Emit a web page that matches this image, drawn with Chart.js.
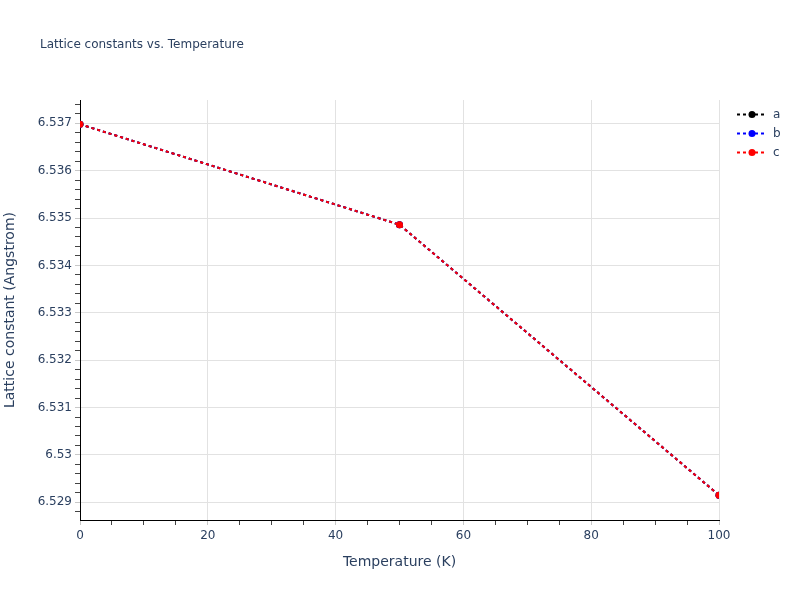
<!DOCTYPE html>
<html>
<head>
<meta charset="utf-8">
<title>Lattice constants vs. Temperature</title>
<script src="https://cdn.jsdelivr.net/npm/chart.js@4/dist/chart.umd.min.js"></script>
<style>
  html, body { margin: 0; padding: 0; background: #fff; }
  #wrap { width: 800px; height: 600px; }
</style>
</head>
<body>
<div id="wrap"><canvas id="latticeChart" width="800" height="600"></canvas></div>
<script>
const temperatures = [0, 50, 100];
const latticeA = [6.53698, 6.53486, 6.52915];
const latticeB = [6.53698, 6.53486, 6.52915];
const latticeC = [6.53698, 6.53486, 6.52915];

const seriesNames = ["a", "b", "c"];
const seriesColors = ["#000000", "#0000ff", "#ff0000"];

const xMajorTicks = [0, 20, 40, 60, 80, 100];
const yMajorTicks = [6.529, 6.53, 6.531, 6.532, 6.533, 6.534, 6.535, 6.536, 6.537];
const X_MIN = 0;
const X_MAX = 100;
const Y_MIN = 6.528626;
const Y_MAX = 6.537492;

const TEXT_COLOR = "#2a3f5f";
const GRID_COLOR = "#e2e2e2";
const FONT = "'DejaVu Sans', verdana, arial, sans-serif";

Chart.defaults.font.family = FONT;
Chart.defaults.color = TEXT_COLOR;

function isMajor(list, value) {
  return list.some((m) => Math.abs(m - value) < 1e-9);
}

function toPoints(values) {
  return temperatures.map((t, i) => ({ x: t, y: values[i] }));
}

// plotly-ish title in the top-left corner plus a legend with dash + marker
const decorations = {
  id: "decorations",
  afterDraw(chart) {
    const { ctx, chartArea } = chart;
    ctx.save();
    ctx.fillStyle = TEXT_COLOR;
    ctx.font = "12px " + FONT;
    ctx.textBaseline = "middle";
    ctx.textAlign = "left";
    ctx.fillText("Lattice constants vs. Temperature", 40, 45);

    ctx.font = "12px " + FONT;
    chart.data.datasets.forEach((ds, i) => {
      const y = chartArea.top + 14.5 + i * 19;
      const x0 = chartArea.right + 18;
      ctx.strokeStyle = ds.borderColor;
      ctx.lineWidth = 2;
      ctx.setLineDash([3, 3]);
      ctx.beginPath();
      ctx.moveTo(x0, y);
      ctx.lineTo(x0 + 30, y);
      ctx.stroke();
      ctx.setLineDash([]);
      ctx.fillStyle = ds.borderColor;
      ctx.beginPath();
      ctx.arc(x0 + 15, y, 3.5, 0, Math.PI * 2);
      ctx.fill();
      ctx.fillStyle = TEXT_COLOR;
      ctx.fillText(ds.label, x0 + 36, y);
    });
    ctx.restore();
  },
};

const datasets = [latticeA, latticeB, latticeC].map((values, i) => ({
  label: seriesNames[i],
  data: toPoints(values),
  order: 2 - i,
  borderColor: seriesColors[i],
  backgroundColor: seriesColors[i],
  pointBackgroundColor: seriesColors[i],
  pointBorderColor: seriesColors[i],
  pointBorderWidth: 0,
  pointRadius: 3.5,
  borderWidth: 2,
  borderDash: [3, 3],
  tension: 0,
  fill: false,
  clip: 0,
}));

new Chart(document.getElementById("latticeChart"), {
  type: "line",
  data: { datasets },
  plugins: [decorations],
  options: {
    responsive: false,
    animation: false,
    layout: { padding: { top: 100, right: 81, left: 0, bottom: 0 } },
    plugins: {
      legend: { display: false },
      title: { display: false },
      tooltip: { enabled: false },
    },
    scales: {
      x: {
        type: "linear",
        min: X_MIN,
        max: X_MAX,
        afterBuildTicks: (scale) => {
          const ticks = [];
          for (let v = X_MIN; v <= X_MAX; v += 5) ticks.push({ value: v });
          scale.ticks = ticks;
        },
        afterFit: (scale) => { scale.height = 80; },
        border: { display: true, color: "#000", width: 1 },
        grid: {
          color: (c) => (isMajor(xMajorTicks, c.tick.value) ? GRID_COLOR : "rgba(0,0,0,0)"),
          tickColor: (c) => (isMajor(xMajorTicks, c.tick.value) ? "#c8c8c8" : "#444"),
          tickLength: 5,
          lineWidth: 1,
        },
        ticks: {
          autoSkip: false,
          maxRotation: 0,
          padding: 4,
          color: TEXT_COLOR,
          font: { size: 12 },
          callback: (v) => (isMajor(xMajorTicks, v) ? String(v) : ""),
        },
        title: {
          display: true,
          text: "Temperature (K)",
          color: TEXT_COLOR,
          font: { size: 14 },
          padding: { top: 0, bottom: 29 },
        },
      },
      y: {
        type: "linear",
        min: Y_MIN,
        max: Y_MAX,
        afterBuildTicks: (scale) => {
          const ticks = [];
          const start = Math.ceil(Y_MIN * 5000);
          const end = Math.floor(Y_MAX * 5000);
          for (let k = start; k <= end; k += 1) ticks.push({ value: k / 5000 });
          scale.ticks = ticks;
        },
        afterFit: (scale) => { scale.width = 80; },
        border: { display: true, color: "#000", width: 1 },
        grid: {
          color: (c) => (isMajor(yMajorTicks, c.tick.value) ? GRID_COLOR : "rgba(0,0,0,0)"),
          tickColor: (c) => (isMajor(yMajorTicks, c.tick.value) ? "#c8c8c8" : "#444"),
          tickLength: 5,
          lineWidth: 1,
        },
        ticks: {
          autoSkip: false,
          padding: 3,
          color: TEXT_COLOR,
          font: { size: 12 },
          callback: (v) => (isMajor(yMajorTicks, v) ? String(Number(v.toFixed(3))) : ""),
        },
        title: {
          display: true,
          text: "Lattice constant (Angstrom)",
          color: TEXT_COLOR,
          font: { size: 14 },
          padding: { top: 2, bottom: 0 },
        },
      },
    },
  },
});
</script>
</body>
</html>
